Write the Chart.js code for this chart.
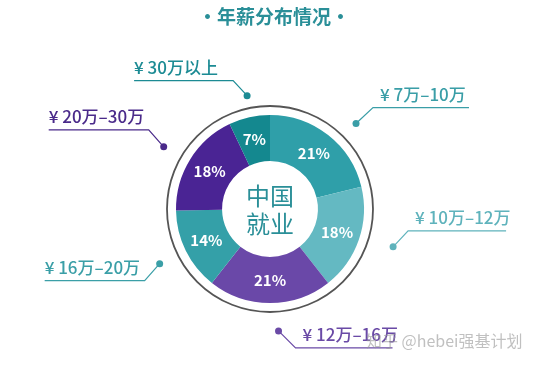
<!DOCTYPE html>
<html>
<head>
<meta charset="utf-8">
<script src="https://cdn.jsdelivr.net/npm/chart.js@4/dist/chart.umd.min.js"></script>
<style>
  html, body { margin: 0; padding: 0; background: #fff; }
  #wrap { width: 539px; height: 366px; }
</style>
</head>
<body>
<div id="wrap"><canvas id="chart"></canvas></div>
<script>
// -------------------- data --------------------//
var categories = ["¥ 7万–10万", "¥ 10万–12万", "¥ 12万–16万", "¥ 16万–20万", "¥ 20万–30万", "¥ 30万以上"];
var shares = [21, 18, 21, 14, 18, 7];
var title = "·年薪分布情况·";
var centerText = ["中国", "就业"];
var watermark = "知乎 @hebei强基计划";

// styling per slice (colour, dot placement, leader elbow, line direction)
var colors = ["#2f9fa9", "#64b9c2", "#6a48a8", "#34a0a8", "#4a2494", "#14888f"];
var labelColors = ["#3a9ea7", "#5fb3bc", "#6a4aa6", "#3b9fa7", "#4a2a8a", "#1c8b94"];
var leaders = [
    {da: 7, rf: 1.29, ex: 17, ey: -16, dir: 1, len: 96},
    {da: -2, rf: 1.37, ex: 15, ey: -16, dir: 1, len: 98},
    {da: -4, rf: 1.30, ex: 17, ey: 17, dir: 1, len: 97},
    {da: 0, rf: 1.31, ex: -15, ey: 17, dir: -1, len: 100},
    {da: -1.5, rf: 1.31, ex: -15, ey: -17, dir: -1, len: 100},
    {da: 1.3, rf: 1.23, ex: -14, ey: -15, dir: -1, len: 99}
];

var FONT = '"Noto Sans CJK SC", "Noto Sans", sans-serif';

var decor = {
    id: 'decor',
    afterDatasetsDraw: function (chart) {
        var c = chart.ctx;
        var arcs = chart.getDatasetMeta(0).data;
        var cx = arcs[0].x, cy = arcs[0].y, R = arcs[0].outerRadius;
        c.save();

        // outer thin ring
        c.beginPath();
        c.arc(cx, cy, R + 9, 0, Math.PI * 2);
        c.strokeStyle = "#555";
        c.lineWidth = 1.8;
        c.stroke();

        // percentages
        c.fillStyle = "#fff";
        c.font = "bold 15px " + FONT;
        c.textAlign = "center";
        c.textBaseline = "middle";
        arcs.forEach(function (a, i) {
            var mid = (a.startAngle + a.endAngle) / 2;
            var rr = (a.innerRadius + a.outerRadius) / 2;
            c.fillText(shares[i] + "%", cx + Math.cos(mid) * rr, cy + Math.sin(mid) * rr);
        });

        // centre text
        c.fillStyle = "#2a8f98";
        c.font = "24px " + FONT;
        c.fillText(centerText[0], cx, cy - 13);
        c.fillText(centerText[1], cx, cy + 15);

        // leader lines + labels
        arcs.forEach(function (a, i) {
            var L = leaders[i];
            var mid = (a.startAngle + a.endAngle) / 2 + L.da * Math.PI / 180;
            var dr = R * L.rf;
            var px = cx + Math.cos(mid) * dr, py = cy + Math.sin(mid) * dr;
            var ex = px + L.ex, ey = py + L.ey;
            var endX = ex + L.dir * L.len;
            c.strokeStyle = labelColors[i];
            c.fillStyle = labelColors[i];
            c.lineWidth = 1.2;
            c.beginPath();
            c.moveTo(px, py);
            c.lineTo(ex, ey);
            c.lineTo(endX, ey);
            c.stroke();
            c.beginPath();
            c.arc(px, py, 3.5, 0, Math.PI * 2);
            c.fill();
            c.font = "500 17px " + FONT;
            c.textBaseline = "middle";
            c.textAlign = "left";
            c.fillText(categories[i], L.dir > 0 ? ex + 7 : endX, ey - 13);
        });

        // title
        c.fillStyle = "#2a8f98";
        c.font = "bold 19px " + FONT;
        c.textAlign = "center";
        c.textBaseline = "middle";
        c.fillText(title, cx + 4, 17);

        // watermark
        c.fillStyle = "rgba(150,150,150,0.6)";
        c.font = "16px " + FONT;
        c.textAlign = "left";
        c.fillText(watermark, 366, 341);
        c.restore();
    }
};

var ctx = document.querySelector('#chart').getContext('2d');
var chart = new Chart(ctx, {
    type: 'doughnut',
    data: {
        labels: categories,
        datasets: [{
            data: shares,
            backgroundColor: colors,
            borderWidth: 0
        }]
    },
    options: {
        responsive: true,
        maintainAspectRatio: false,
        animation: false,
        cutout: '51%',
        rotation: 0,
        layout: { padding: { left: 176, right: 175, top: 115, bottom: 63 } },
        plugins: {
            legend: { display: false },
            tooltip: { enabled: false }
        }
    },
    plugins: [decor]
});
</script>
</body>
</html>
